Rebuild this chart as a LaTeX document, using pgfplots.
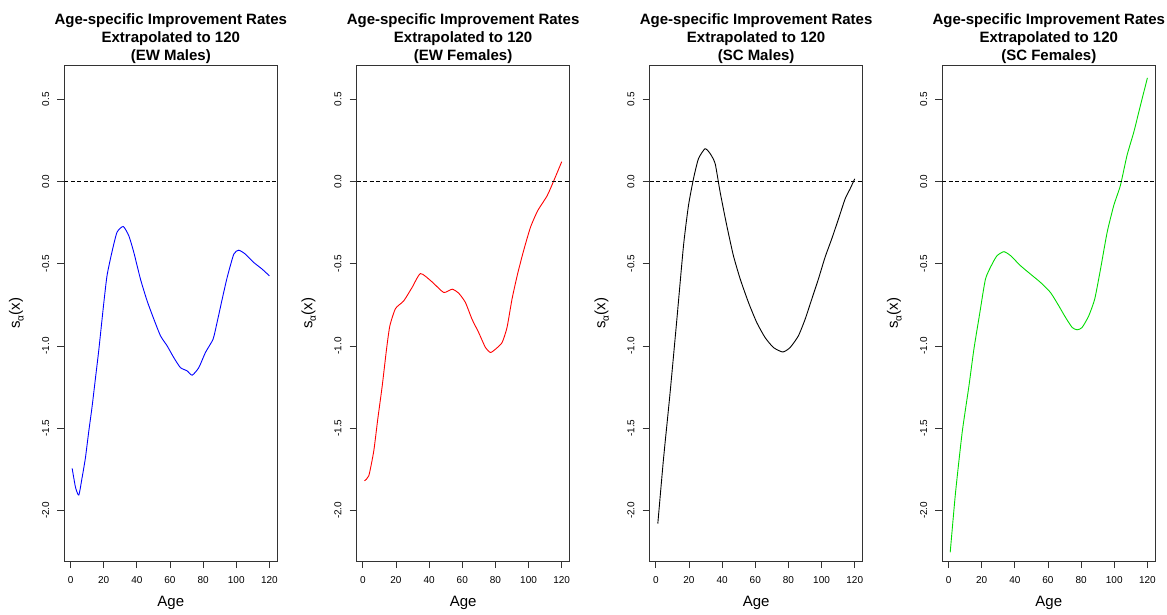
\documentclass[border=0pt]{standalone}
\usepackage{fontspec}
\setmainfont{Liberation Sans}
\usepackage{pgfplots}
\pgfplotsset{compat=1.18}
\usepackage{pgfplotstable}

% Age-specific improvement rates s_alpha(x), ages 1..120
\pgfplotstableread{
age val
1 -1.745
3 -1.86
5 -1.907
7 -1.80
9 -1.68
11 -1.52
13 -1.37
15 -1.20
17 -1.03
19 -0.84
20.1 -0.736
22 -0.574
24.7 -0.442
28 -0.31
31.8 -0.274
35.2 -0.331
38.2 -0.432
42.2 -0.594
46.2 -0.726
50.3 -0.838
54.3 -0.939
58.3 -1.0
62.3 -1.071
66.3 -1.132
70.4 -1.152
73.4 -1.178
77.4 -1.132
81.4 -1.04
86 -0.959
88.4 -0.858
91.5 -0.716
94.5 -0.584
98.5 -0.442
101.5 -0.418
105.5 -0.442
110.6 -0.493
115.6 -0.533
120 -0.574
}\ewmales

\pgfplotstableread{
age val
1 -1.82
3.6 -1.79
6.6 -1.639
9 -1.446
11.7 -1.243
14.3 -1.02
16.3 -0.878
19.7 -0.773
24.7 -0.726
29.7 -0.645
34.8 -0.56
41.8 -0.611
48.8 -0.675
53.9 -0.655
57.9 -0.68
61.9 -0.736
65.9 -0.838
69.9 -0.919
74 -1.01
77 -1.04
80 -1.02
84 -0.98
87 -0.888
90 -0.716
93.1 -0.574
96.7 -0.432
101.1 -0.28
105.5 -0.178
111.2 -0.087
115.2 0.004
120 0.12
}\ewfemales

\pgfplotstableread{
age val
1.2 -2.08
4.6 -1.69
8.6 -1.285
12.7 -0.837
16.7 -0.39
19.7 -0.146
22.7 0.016
25.7 0.138
29.7 0.199
32.8 0.169
35.8 0.108
38.8 -0.065
42.8 -0.268
46.8 -0.451
50.9 -0.593
55.9 -0.736
60.9 -0.858
65.9 -0.949
71 -1.01
76.6 -1.037
81 -1.01
86 -0.939
90.1 -0.837
94.1 -0.715
98.1 -0.593
102.1 -0.461
106.1 -0.35
110.2 -0.228
114.2 -0.106
117.2 -0.045
120 0.016
}\scmales

\pgfplotstableread{
age val
1 -2.256
4.2 -1.894
8.2 -1.528
12.3 -1.244
15.3 -1.02
18.9 -0.797
22.3 -0.593
26.3 -0.502
29.3 -0.451
33.4 -0.427
37.4 -0.451
43.4 -0.512
49.4 -0.563
55.5 -0.614
61.5 -0.675
66.5 -0.756
70.6 -0.827
74.6 -0.888
77.6 -0.902
80.6 -0.888
84.6 -0.817
88.2 -0.715
91.7 -0.533
95.7 -0.309
99.7 -0.146
103.7 -0.024
107.7 0.159
111.8 0.301
115.8 0.463
120 0.63
}\scfemales

\tikzset{
  zeroline/.style={black, dash pattern=on 4pt off 2.5pt, line width=0.7pt},
  curve/.style={line width=0.9pt, smooth, tension=0.35},
}

\pgfplotsset{
  panel/.style={
    scale only axis,
    width=213pt, height=495.3pt,
    anchor=south west,
    xmin=-3.76, xmax=124.76,
    ymin=-2.308, ymax=0.704,
    axis line style={black!80, line width=0.8pt},
    tick style={black!80, line width=0.8pt},
    tick align=outside,
    major tick length=7pt,
    xtick={0,20,40,60,80,100,120},
    xticklabels={0,20,40,60,80,100,120},
    ytick={-2,-1.5,-1,-0.5,0,0.5},
    yticklabels={-2.0,-1.5,-1.0,-0.5,0.0,0.5},
    xtick pos=bottom, ytick pos=left,
    tick label style={font=\fontsize{10}{12}\selectfont},
    xticklabel style={yshift=-5pt},
    yticklabel style={xshift=-4.5pt, rotate=90, anchor=south},
    every axis x label/.style={at={(axis description cs:0.5,-0.0848)}, anchor=center, font=\fontsize{15}{18}\selectfont},
    every axis y label/.style={at={(axis description cs:-0.225,0.5)}, rotate=90, anchor=center, font=\fontsize{15}{18}\selectfont},
    xlabel={Age},
    ylabel={s\raisebox{-0.45ex}{\fontsize{10}{10}\selectfont α}(x)},
    title style={at={(axis description cs:0.5,1.042)}, anchor=center, align=center, font=\bfseries\fontsize{15}{18}\selectfont},
  },
}

\begin{document}
\begin{tikzpicture}
\useasboundingbox (0,0) rectangle (1167pt,614pt);

\begin{axis}[panel, at={(64.3pt,53pt)},
  title={Age-specific Improvement Rates\\Extrapolated to 120\\(EW Males)}]
  \addplot[curve, color=blue] table[x=age, y=val] {\ewmales};
  \draw[zeroline] (axis cs:-3.76,0) -- (axis cs:124.76,0);
\end{axis}

\begin{axis}[panel, at={(356.6pt,53pt)},
  title={Age-specific Improvement Rates\\Extrapolated to 120\\(EW Females)}]
  \addplot[curve, color=red] table[x=age, y=val] {\ewfemales};
  \draw[zeroline] (axis cs:-3.76,0) -- (axis cs:124.76,0);
\end{axis}

\begin{axis}[panel, at={(649.6pt,53pt)},
  title={Age-specific Improvement Rates\\Extrapolated to 120\\(SC Males)}]
  \addplot[curve, color=black] table[x=age, y=val] {\scmales};
  \draw[zeroline] (axis cs:-3.76,0) -- (axis cs:124.76,0);
\end{axis}

\begin{axis}[panel, at={(942.3pt,53pt)},
  title={Age-specific Improvement Rates\\Extrapolated to 120\\(SC Females)}]
  \addplot[curve, color={rgb,255:red,0;green,220;blue,0}] table[x=age, y=val] {\scfemales};
  \draw[zeroline] (axis cs:-3.76,0) -- (axis cs:124.76,0);
\end{axis}
\end{tikzpicture}
\end{document}
